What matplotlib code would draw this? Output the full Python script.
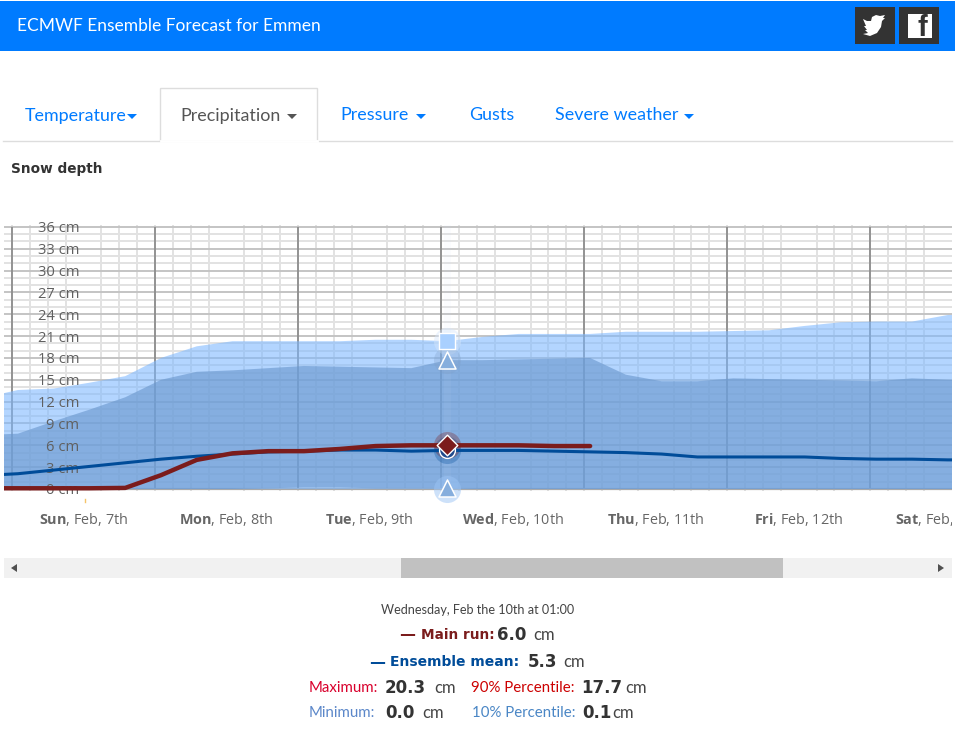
import matplotlib
matplotlib.use("Agg")
import matplotlib.pyplot as plt
from matplotlib.patches import Rectangle, Polygon
from matplotlib.ticker import MultipleLocator
from matplotlib.transforms import Bbox

plt.rcParams["font.family"] = ["Open Sans", "DejaVu Sans"]
plt.rcParams["mathtext.fontset"] = "custom"
plt.rcParams["mathtext.rm"] = "Open Sans"
plt.rcParams["mathtext.bf"] = "Open Sans:bold"

# hours since Sun Feb 7th 00:00
hours = [-5, 1, 7, 13, 19, 25, 31, 37, 43, 49, 55, 61, 67, 73, 79, 85, 91, 97,
         103, 109, 115, 121, 127, 133, 139, 145, 151, 157, 163]
maximum = [12.5, 13.6, 13.8, 14.6, 15.5, 18.0, 19.6, 20.3, 20.3, 20.3, 20.3, 20.5, 20.5, 20.3,
           20.9, 21.3, 21.3, 21.3, 21.6, 21.6, 21.6, 21.7, 21.8, 22.4, 22.9, 23.0, 23.0, 23.9, 24.0]
p90 = [7.4, 7.6, 9.3, 10.9, 12.6, 15.0, 16.1, 16.3, 16.6, 16.9, 16.8, 16.7, 16.6, 17.7,
       17.7, 17.8, 17.9, 18.0, 15.7, 14.8, 14.8, 15.2, 15.1, 15.0, 14.9, 14.8, 15.2, 15.0, 14.9]
p10 = [0.0, 0.0, 0.0, 0.0, 0.0, 0.0, 0.0, 0.0, 0.1, 0.2, 0.2, 0.1, 0.1, 0.1,
       0.0, 0.0, 0.0, 0.0, 0.0, 0.0, 0.0, 0.0, 0.0, 0.0, 0.0, 0.0, 0.0, 0.0, 0.0]
minimum = [0.0] * 29
mean = [1.85, 2.1, 2.6, 3.1, 3.6, 4.1, 4.5, 4.8, 5.1, 5.2, 5.35, 5.35, 5.2, 5.3,
        5.3, 5.3, 5.2, 5.1, 5.0, 4.8, 4.4, 4.4, 4.4, 4.4, 4.2, 4.1, 4.1, 4.0, 4.0]
main_hours = [-5, 1, 7, 13, 19, 25, 31, 37, 43, 49, 55, 61, 67, 73, 79, 85, 91, 97]
main_run = [0.1, 0.1, 0.1, 0.1, 0.15, 1.9, 4.0, 4.9, 5.2, 5.2, 5.5, 5.9, 6.0, 6.0,
            6.0, 6.0, 5.9, 5.9]

day_starts = [0, 24, 48, 72, 96, 120, 144]
day_mids = [12, 36, 60, 84, 108, 132, 156]
day_labels = [r"$\mathbf{Sun}$, Feb, 7th", r"$\mathbf{Mon}$, Feb, 8th", r"$\mathbf{Tue}$, Feb, 9th",
              r"$\mathbf{Wed}$, Feb, 10th", r"$\mathbf{Thu}$, Feb, 11th", r"$\mathbf{Fri}$, Feb, 12th",
              r"$\mathbf{Sat}$, Feb, 13th"]
y_ticks = list(range(0, 37, 3))
y_labels = [f"{v} cm" for v in y_ticks]
hover_hour = 73

W, H = 955, 736
fig = plt.figure(figsize=(W / 100, H / 100), dpi=100, facecolor="white")

# page around the chart, in pixel coordinates
page = fig.add_axes([0, 0, 1, 1], zorder=0)
page.set_xlim(0, W)
page.set_ylim(H, 0)
page.axis("off")

page.add_patch(Rectangle((0, 1), W, 50, color="#007bff", lw=0))
page.text(17, 26, "ECMWF Ensemble Forecast for Emmen", color="white", fontsize=12.5, va="center",
          family=["Lato", "DejaVu Sans"])
page.add_patch(Rectangle((855, 7), 40, 37, color="#333333", lw=0))
page.add_patch(Rectangle((899, 7), 40, 37, color="#333333", lw=0))
bird = [(863, 19), (867, 21), (871, 21), (872, 17), (876, 15), (880, 16), (885, 15), (883, 18), (885, 18),
        (882, 21), (881, 27), (877, 33), (870, 36), (863, 34), (868, 33), (865, 30), (867, 30), (864, 26), (866, 26)]
page.add_patch(Polygon(bird, color="white", lw=0))
page.add_patch(Rectangle((908, 14), 24, 24, color="white", lw=0))
page.text(922, 28, "f", color="#333333", fontsize=21, fontweight="bold", ha="center", va="center",
          family=["Liberation Sans", "DejaVu Sans"])

page.plot([3, 952], [140.5, 140.5], color="#dddddd", lw=1)
page.add_patch(Rectangle((160, 88), 157, 53, facecolor="white", edgecolor="#dddddd", lw=1))
page.plot([160.5, 316.5], [141, 141], color="white", lw=2)
tabs = [("Temperature", 25, 132, "#007bff"), ("Precipitation", 180, 292, "#555555"), ("Pressure", 340, 421, "#007bff"),
        ("Gusts", 469, None, "#007bff"), ("Severe weather", 555, 689, "#007bff")]
for label, x, caret, col in tabs:
    page.text(x, 115.5, label, color=col, fontsize=12.85, va="center", family=["Lato", "DejaVu Sans"])
    if caret:
        page.add_patch(Polygon([(caret - 5, 114), (caret + 5, 114), (caret, 119)], color=col, lw=0))
page.text(11, 169, "Snow depth", color="#333333", fontsize=9.8, fontweight="bold", va="center",
          family=["DejaVu Sans"])

page.add_patch(Rectangle((4, 558), 948, 20, color="#f1f1f1", lw=0))
page.add_patch(Rectangle((401, 558), 382, 20, color="#c1c1c1", lw=0))
page.add_patch(Polygon([(11, 568), (17, 564), (17, 572)], color="#505050", lw=0))
page.add_patch(Polygon([(944, 568), (938, 564), (938, 572)], color="#505050", lw=0))
page.plot([84.5, 84.5], [498.5, 501.5], color="#f5c469", lw=1)

body = ["Lato", "DejaVu Sans"]
wide = ["DejaVu Sans"]
page.text(478, 610.5, "Wednesday, Feb the 10th at 01:00", color="#444444", fontsize=9.1, ha="center", va="center", family=body)
readout = [
    (399, 634, "—", "#7b1c1c", 11.5, "bold", wide), (421, 634, "Main run:", "#7b1c1c", 9.8, "bold", wide),
    (497, 634, "6.0", "#333333", 12, "bold", wide), (533, 634, "cm", "#444444", 12, "normal", body),
    (369, 661, "—", "#004c99", 11.5, "bold", wide), (390, 661, "Ensemble mean:", "#004c99", 10, "bold", wide),
    (528, 661, "5.3", "#333333", 12, "bold", wide), (563, 661, "cm", "#444444", 12, "normal", body),
    (309, 687, "Maximum:", "#d9002c", 10.8, "normal", body), (385, 687, "20.3", "#333333", 12, "bold", wide),
    (434, 687, "cm", "#444444", 12, "normal", body), (471, 687, "90% Percentile:", "#cc0000", 10.8, "normal", body),
    (581, 687, "17.7", "#333333", 12, "bold", wide), (625, 687, "cm", "#444444", 12, "normal", body),
    (309, 712, "Minimum:", "#5b87c9", 10.8, "normal", body), (385, 712, "0.0", "#333333", 12, "bold", wide),
    (422, 712, "cm", "#444444", 12, "normal", body), (472, 712, "10% Percentile:", "#4a86c5", 10.8, "normal", body),
    (582, 712, "0.1", "#333333", 12, "bold", wide), (612, 712, "cm", "#444444", 12, "normal", body),
]
for x, y, txt, col, size, weight, fam in readout:
    page.text(x, y + 1, txt, color=col, fontsize=size, fontweight=weight, va="center", family=fam)

# chart: 5.96 px per hour, 7.28 px per cm, 0 cm at y=489, Feb 7th 00:00 at x=12
pad = 0.3
top_px = 489 - (36 + pad) * 7.28
bot_px = 489 + pad * 7.28
rect = [4 / W, 1 - bot_px / H, 948 / W, (bot_px - top_px) / H]
x_range = ((4 - 12) / 5.96, (952 - 12) / 5.96)

ax = fig.add_axes(rect, zorder=1)
ax.patch.set_alpha(0)
ax.set_xlim(x_range)
ax.set_ylim(-pad, 36 + pad)
for s in ax.spines.values():
    s.set_visible(False)
ax.set_axisbelow(True)
ax.set_yticks(y_ticks)
ax.set_yticklabels([])
ax.yaxis.set_minor_locator(MultipleLocator(1))
ax.xaxis.set_minor_locator(MultipleLocator(3))
ax.set_xticks(day_mids)
ax.set_xticklabels(day_labels)
ax.tick_params(axis="both", which="both", length=0)
ax.tick_params(axis="x", pad=14.5, labelsize=10.4, labelcolor="#666666")
ax.grid(True, which="minor", color="#e2e2e2", lw=1.4)
ax.grid(True, which="major", axis="y", color="#c4c4c4", lw=1.4)
ax.grid(False, which="major", axis="x")
ax.vlines(day_starts, 0, 36, color="#8c8c8c", lw=1.3, zorder=0.7)
ax.axhline(0, color="#a8a8a8", lw=1.6, zorder=0.8)

# the last day label runs off the chart on the right
for lab in ax.get_xticklabels():
    lab.set_clip_box(Bbox.from_extents(0, 0, 952, H))
    lab.set_clip_on(True)

ax.fill_between(hours, minimum, maximum, color="#7db8ff", alpha=0.58, lw=0, zorder=2)
ax.fill_between(hours, p10, p90, color="#6a97cd", alpha=0.62, lw=0, zorder=3)

# labels sit above the fills, the lines above the labels
top = fig.add_axes(rect, zorder=2)
top.patch.set_alpha(0)
top.set_xlim(x_range)
top.set_ylim(-pad, 36 + pad)
for s in top.spines.values():
    s.set_visible(False)
top.set_axisbelow(True)
top.set_xticks([])
top.set_yticks(y_ticks)
top.set_yticklabels(y_labels)
top.tick_params(axis="y", length=0, pad=-54, labelsize=10.6, labelcolor="#606060")

top.plot(hours, mean, color="#004c99", lw=2.2, zorder=4)
top.plot(main_hours, main_run, color="#7b1c1c", lw=3.2, zorder=5, solid_capstyle="round")

# hover state on Wed 01:00
i = hours.index(hover_hour)
top.axvline(hover_hour, color="#cfe0f5", lw=5, alpha=0.07, zorder=3.5)
top.scatter(hover_hour, maximum[i], s=380, color="#d5e6fb", alpha=0.45, lw=0, zorder=3.6)
top.scatter(hover_hour, p90[i], s=380, color="#7f9fc8", alpha=0.3, lw=0, zorder=3.6)
top.scatter(hover_hour, minimum[i], s=380, color="#9cc4f5", alpha=0.5, lw=0, zorder=3.6, clip_on=False)
top.scatter(hover_hour, mean[i], s=380, color="#004c99", alpha=0.3, lw=0, zorder=3.6)
top.scatter(hover_hour, main_run[13], s=380, color="#7b1c1c", alpha=0.3, lw=0, zorder=3.6)
top.scatter(hover_hour, maximum[i], s=130, marker="s", color="#a9d0ff", edgecolor="white", lw=1, zorder=6)
top.scatter(hover_hour, p90[i], s=150, marker="^", color="#86aedd", edgecolor="white", lw=1.1, zorder=6)
top.scatter(hover_hour, minimum[i] + 0.1, s=150, marker="^", color="#86aedd", edgecolor="white", lw=1.1, zorder=6, clip_on=False)
top.scatter(hover_hour, mean[i], s=130, marker="o", color="#1f4a8c", edgecolor="white", lw=1, zorder=6)
top.scatter(hover_hour, main_run[13], s=110, marker="D", color="#7b1c1c", edgecolor="white", lw=1, zorder=7)

fig.savefig("out.png", dpi=100, facecolor="white")
